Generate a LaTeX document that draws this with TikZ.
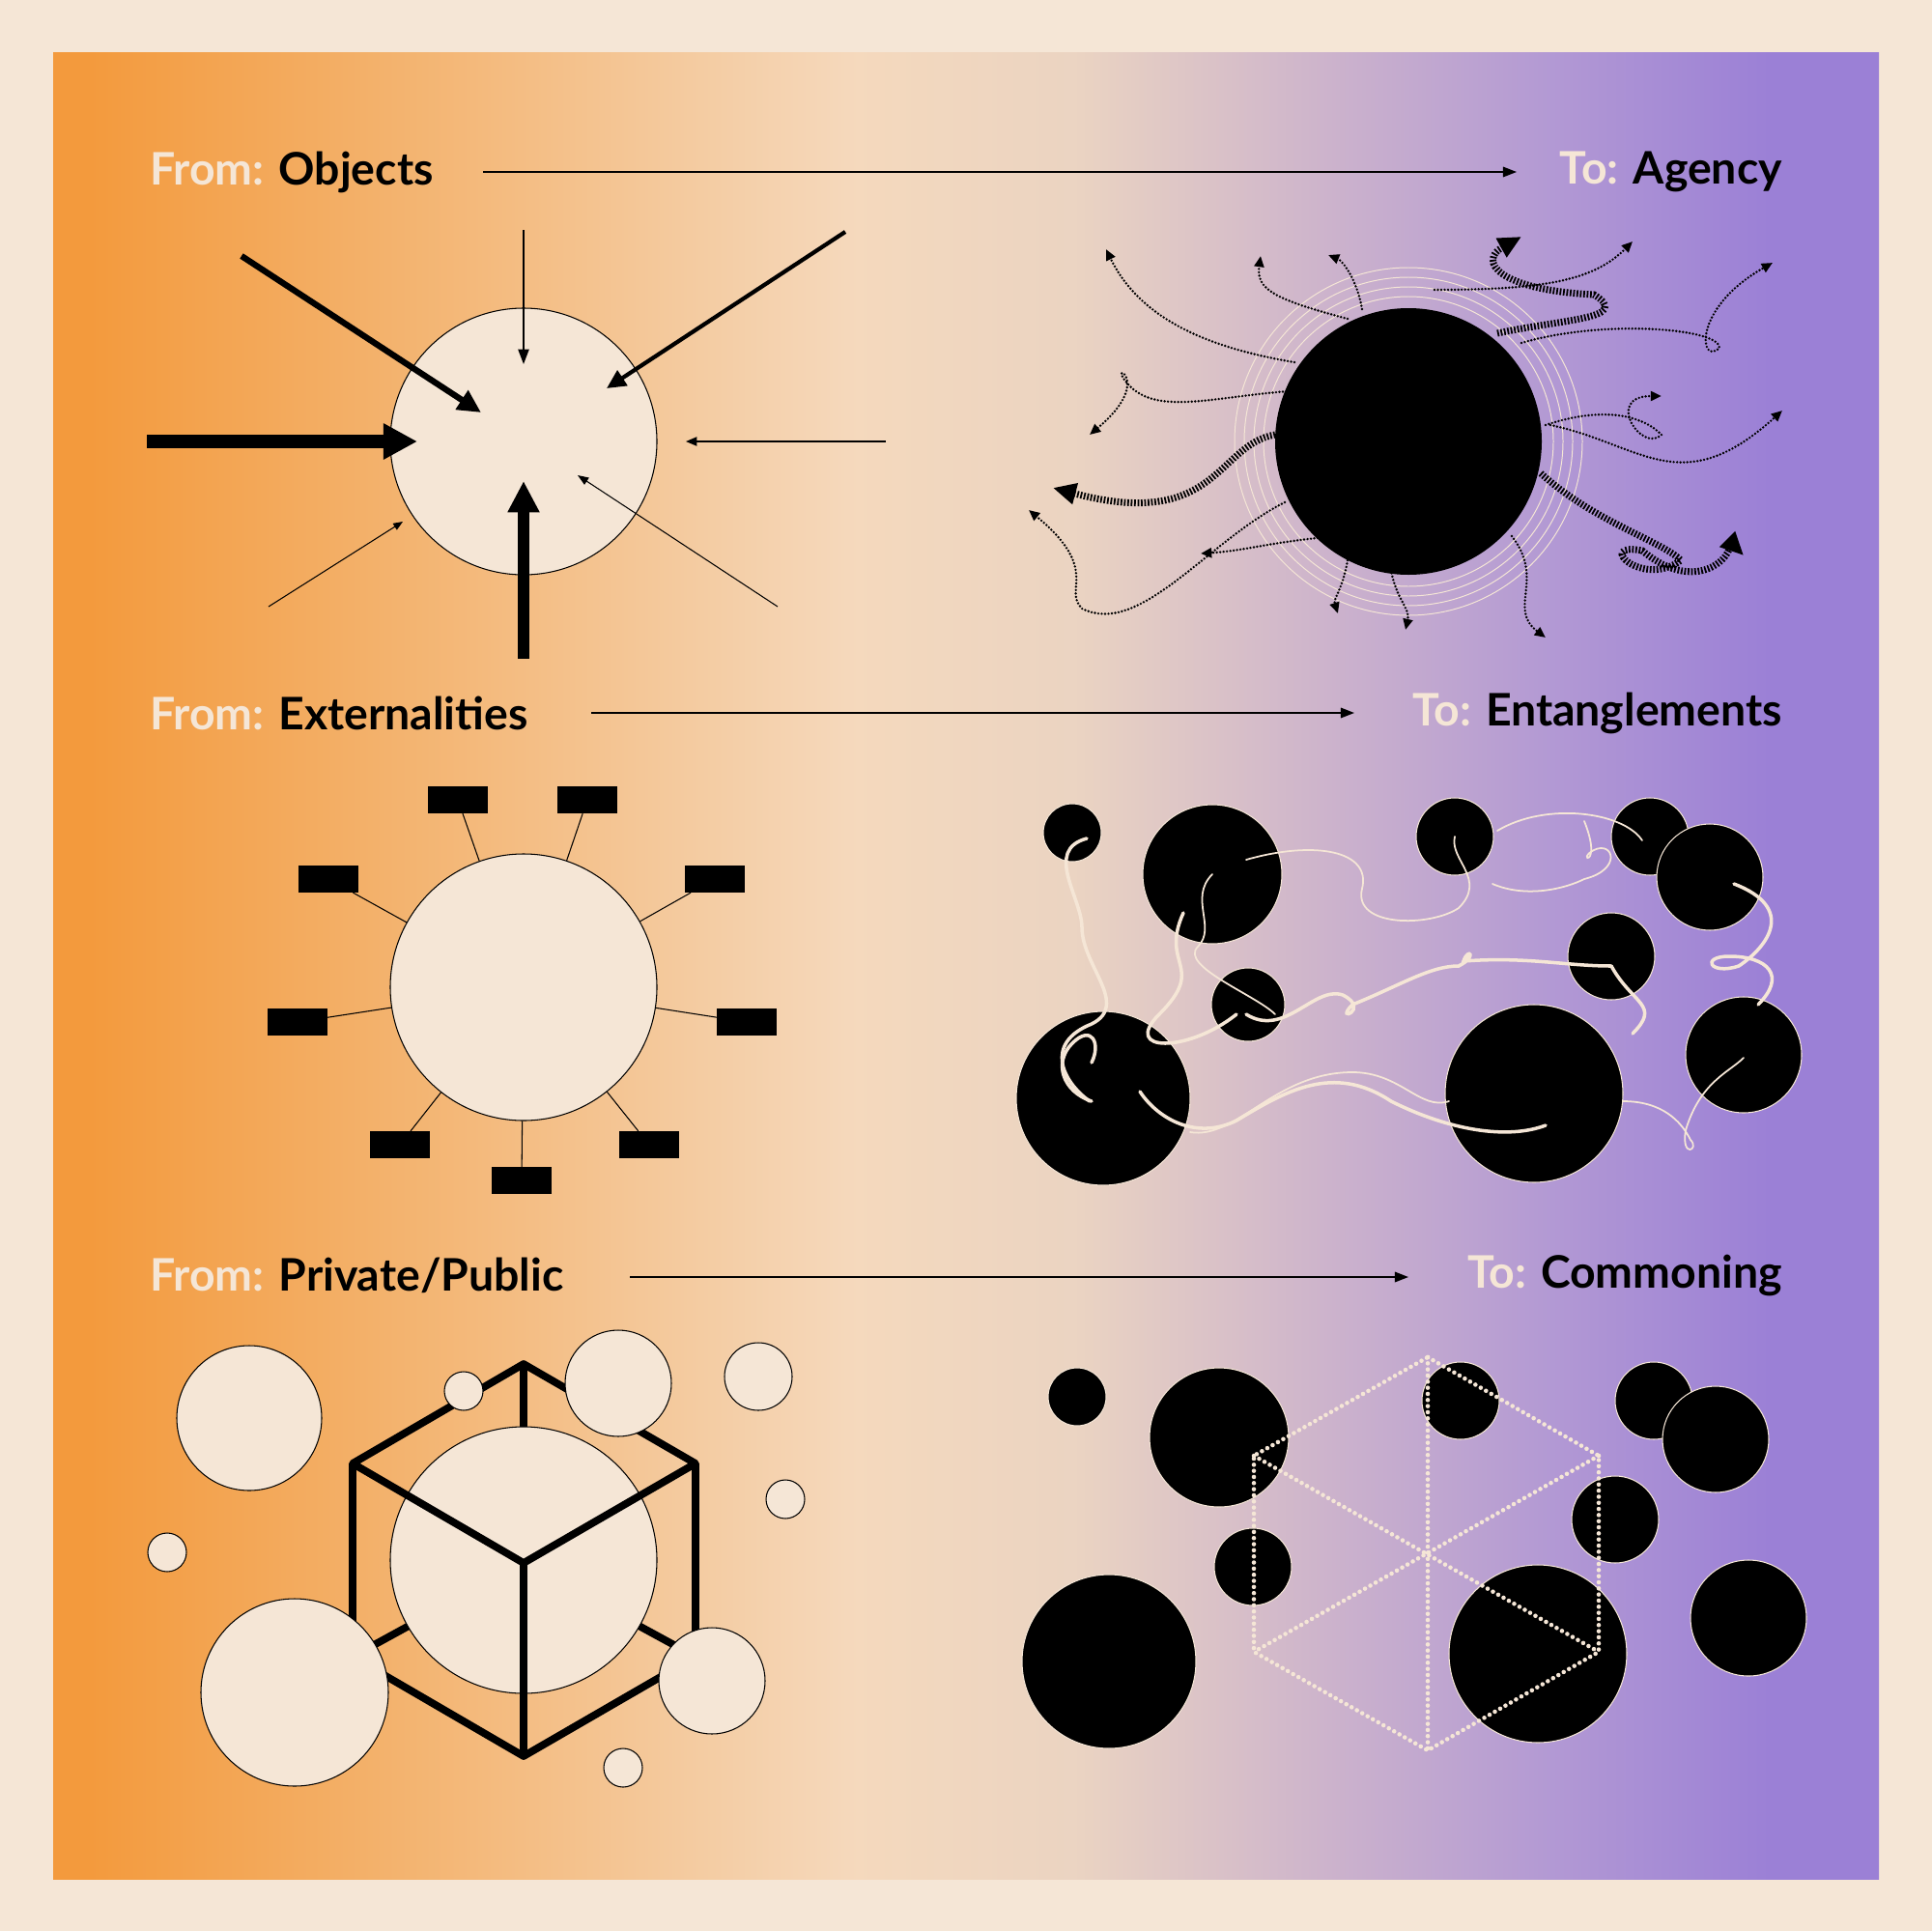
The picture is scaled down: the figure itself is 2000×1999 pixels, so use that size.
\documentclass[tikz,border=0pt]{standalone}
\usepackage{fontspec}
\setmainfont{Lato}
\usetikzlibrary{arrows.meta}
\definecolor{cream}{HTML}{F5E6D6}
\pgfdeclarehorizontalshading{bgshade}{100bp}{rgb(0bp)=(0.953,0.604,0.239); rgb(26bp)=(0.953,0.604,0.239); rgb(36bp)=(0.955,0.72,0.47); rgb(47bp)=(0.96,0.85,0.74); rgb(53bp)=(0.92,0.83,0.76); rgb(60bp)=(0.80,0.70,0.80); rgb(66bp)=(0.70,0.60,0.83); rgb(72bp)=(0.608,0.502,0.84); rgb(100bp)=(0.608,0.502,0.84)}
\tikzset{
 ttl/.style={font=\fontsize{66}{70}\selectfont\bfseries, anchor=west, inner sep=0},
 conn/.style={line width=2.2pt,-{Triangle[length=20pt,width=15pt]}},
 ccirc/.style={draw=black, fill=cream, line width=1.5pt},
 rectb/.style={fill=black, minimum width=62*0.05cm, minimum height=28*0.05cm, inner sep=0},
 ag/.style={dash pattern=on 0pt off 5pt, line cap=round, line width=3.8pt, -{Triangle[length=16pt,width=14pt]}},
 agt/.style={dash pattern=on 2.5pt off 2.5pt, line width=10pt, -{Triangle[length=34pt,width=30pt]}},
 ent/.style={draw=cream, line width=5pt, line cap=round},
 entt/.style={draw=cream, line width=2.5pt, line cap=round},
 cub/.style={draw=cream, dash pattern=on 0pt off 9pt, line cap=round, line width=6.5pt},
}
\begin{document}
\begin{tikzpicture}[x=0.05cm,y=-0.05cm]
\fill[cream] (0,0) rectangle (2000,1999);
\shade[shading=bgshade] (55,55) rectangle (1945,1945);
\useasboundingbox (0,0) rectangle (2000,1999);
% titles
\node[ttl] (t1) at (155,178) {\textcolor{cream}{From:} Objects};
\node[ttl, anchor=east] (t2) at (1845,178) {\textcolor{cream}{To:} Agency};
\draw[conn] (500,178) coordinate (a1) -- (1570,178) coordinate (a2);
\node[ttl] (t3) at (155,738) {\textcolor{cream}{From:} Externalities};
\node[ttl, anchor=east] (t4) at (1845,738) {\textcolor{cream}{To:} Entanglements};
\draw[conn] (612,738) coordinate (b1) -- (1402,738) coordinate (b2);
\node[ttl] (t5) at (155,1320) {\textcolor{cream}{From:} Private/Public};
\node[ttl, anchor=east] (t6) at (1845,1320) {\textcolor{cream}{To:} Commoning};
\draw[conn] (652,1322) coordinate (c1) -- (1458,1322) coordinate (c2);
% Objects
\node[ccirc, circle, minimum size=276*0.05cm] (o) at (542,457) {};
\draw[line width=20pt,-{Triangle[length=50pt,width=50pt]}] (152,457) -- (432,457);
\draw[line width=9pt,-{Triangle[length=34pt,width=32pt]}] (250,265) -- (498,427);
\draw[line width=6pt,-{Triangle[length=28pt,width=26pt]}] (875,240) -- (628,402);
\draw[line width=2.5pt,-{Triangle[length=22pt,width=16pt]}] (542,238) -- (542,377);
\draw[line width=2pt,-{Triangle[length=16pt,width=13pt]}] (917,457) -- (710,457);
\draw[line width=1.5pt,-{Triangle[length=16pt,width=12pt]}] (805,628) -- (598,492);
\draw[line width=1.5pt,-{Triangle[length=14pt,width=11pt]}] (278,628) -- (417,540);
\draw[line width=16pt,-{Triangle[length=46pt,width=44pt]}] (542,682) -- (542,498);
% Agency
\foreach \r in {150,160,170,180} \draw[cream, line width=1.4pt] (1458,457) circle (\r);
\draw[ag] (1340,375) .. controls (1250,360) and (1180,330) .. (1145,258);
\draw[ag] (1395,330) .. controls (1320,310) and (1300,300) .. (1305,265);
\draw[ag] (1410,320) .. controls (1405,290) and (1390,270) .. (1375,264);
\draw[agt] (1550,345) .. controls (1620,330) and (1690,330) .. (1650,305) .. controls (1550,300) and (1530,270) .. (1575,245);
\draw[ag] (1485,300) .. controls (1600,300) and (1650,290) .. (1690,250);
\draw[ag] (1575,355) .. controls (1660,330) and (1780,340) .. (1780,360) .. controls (1760,380) and (1750,320) .. (1835,272);
\draw[ag] (1605,440) .. controls (1700,460) and (1740,520) .. (1845,425);
\draw[ag] (1335,405) .. controls (1260,410) and (1200,430) .. (1170,400) .. controls (1140,370) and (1200,390) .. (1128,450);
\draw[agt] (1320,450) .. controls (1260,460) and (1260,550) .. (1090,505);
\draw[ag] (1330,520) .. controls (1250,560) and (1180,660) .. (1120,630) .. controls (1100,610) and (1140,590) .. (1065,528);
\draw[ag] (1385,555) .. controls (1320,560) and (1290,570) .. (1243,573);
\draw[ag] (1395,580) .. controls (1390,610) and (1380,620) .. (1385,635);
\draw[ag] (1440,590) .. controls (1445,620) and (1460,630) .. (1455,652);
\draw[ag] (1565,555) .. controls (1600,600) and (1560,630) .. (1600,660);
\draw[agt] (1595,490) .. controls (1650,540) and (1720,560) .. (1740,580) .. controls (1700,610) and (1650,560) .. (1700,570) .. controls (1760,620) and (1800,570) .. (1805,575);
\draw[ag] (1600,440) .. controls (1660,420) and (1700,430) .. (1720,450) .. controls (1700,470) and (1660,410) .. (1720,410);
\node[circle, fill=black, minimum size=276*0.05cm] (ag) at (1458,457) {};
% Externalities
\node[ccirc, circle, minimum size=276*0.05cm] (e) at (542,1022) {};
\foreach \n/\x/\y in {r1/474/828, r2/608/828, r3/340/910, r4/740/910, r5/308/1058, r6/773/1058, r7/414/1185, r8/540/1222, r9/672/1185} {
 \node[rectb] (\n) at (\x,\y) {};
 \draw[line width=1.5pt] (e) -- (\n);
}
% Entanglements
\foreach \x/\y/\r in {1110/862/30, 1255/905/72, 1506/866/40, 1708/866/40, 1770/908/55, 1668/990/45, 1292/1040/38, 1142/1137/90, 1588/1132/92, 1805/1092/60}
 \draw[draw=cream, fill=black, line width=1.5pt] (\x,\y) circle (\r);
\draw[ent] (1125,868) .. controls (1080,880) and (1120,930) .. (1120,960) .. controls (1120,1000) and (1170,1040) .. (1130,1060) .. controls (1080,1080) and (1100,1120) .. (1128,1140);
\draw[ent] (1225,945) .. controls (1200,1000) and (1250,1000) .. (1200,1050) .. controls (1160,1090) and (1230,1090) .. (1280,1050);
\draw[ent] (1290,1050) .. controls (1330,1075) and (1360,1020) .. (1390,1030) .. controls (1420,1045) and (1380,1060) .. (1400,1040) .. controls (1450,1020) and (1480,1000) .. (1510,1000) .. controls (1530,990) and (1520,980) .. (1515,995) .. controls (1580,990) and (1620,1000) .. (1668,1000);
\draw[ent] (1600,1165) .. controls (1560,1180) and (1500,1170) .. (1440,1140) .. controls (1380,1100) and (1330,1130) .. (1280,1160) .. controls (1240,1180) and (1200,1160) .. (1180,1130);
\draw[ent] (1130,1140) .. controls (1100,1130) and (1090,1100) .. (1110,1080) .. controls (1130,1060) and (1140,1080) .. (1130,1100);
\draw[entt] (1290,890) .. controls (1360,870) and (1420,880) .. (1410,920) .. controls (1400,960) and (1480,960) .. (1510,940) .. controls (1540,910) and (1500,890) .. (1506,866);
\draw[entt] (1545,915) .. controls (1580,930) and (1620,920) .. (1640,910) .. controls (1680,900) and (1670,870) .. (1650,880) .. controls (1630,890) and (1660,900) .. (1640,850);
\draw[entt] (1550,860) .. controls (1600,830) and (1680,840) .. (1700,870);
\draw[ent] (1795,915) .. controls (1860,940) and (1830,980) .. (1800,1000) .. controls (1770,1010) and (1760,990) .. (1790,990) .. controls (1830,990) and (1850,1010) .. (1820,1040);
\draw[ent] (1668,1000) .. controls (1690,1040) and (1720,1040) .. (1690,1070);
\draw[entt] (1680,1140) .. controls (1720,1140) and (1740,1160) .. (1750,1180) .. controls (1760,1190) and (1740,1200) .. (1745,1170) .. controls (1760,1120) and (1790,1110) .. (1805,1095);
\draw[entt] (1232,1172) .. controls (1280,1180) and (1320,1110) .. (1400,1110) .. controls (1450,1110) and (1470,1150) .. (1500,1140);
\draw[entt] (1320,1050) .. controls (1300,1030) and (1220,1000) .. (1240,980) .. controls (1260,960) and (1230,930) .. (1255,905);
% Private/Public cube
\tikzset{cb/.style={line width=11pt}}
\draw[cb] (542,1412) -- (542,1618);
\draw[cb] (365,1715) -- (542,1618) -- (720,1715);
\node[ccirc, circle, minimum size=276*0.05cm] (pp) at (542,1615) {};
\draw[cb, line join=round] (542,1412) -- (720,1515) -- (720,1715) -- (542,1818) -- (365,1715) -- (365,1515) -- cycle;
\draw[cb, line join=round] (365,1515) -- (542,1618) -- (720,1515);
\draw[cb] (542,1618) -- (542,1818);
\foreach \x/\y/\r in {258/1468/75, 640/1432/55, 785/1425/35, 480/1440/20, 813/1552/20, 173/1607/20, 305/1752/97, 737/1740/55, 645/1830/20}
 \draw[draw=black, fill=cream, line width=1.5pt] (\x,\y) circle (\r);
% Commoning
\foreach \x/\y/\r in {1115/1446/30, 1262/1488/72, 1512/1450/40, 1712/1450/40, 1776/1490/55, 1672/1573/45, 1297/1622/40, 1148/1720/90, 1592/1712/92, 1810/1675/60}
 \draw[draw=cream, fill=black, line width=1.5pt] (\x,\y) circle (\r);
\draw[cub] (1478,1405) -- (1655,1507) -- (1655,1710) -- (1478,1812) -- (1298,1710) -- (1298,1507) -- cycle;
\draw[cub] (1478,1405) -- (1478,1812);
\draw[cub] (1298,1507) -- (1655,1710);
\draw[cub] (1655,1507) -- (1298,1710);
\end{tikzpicture}
\end{document}
